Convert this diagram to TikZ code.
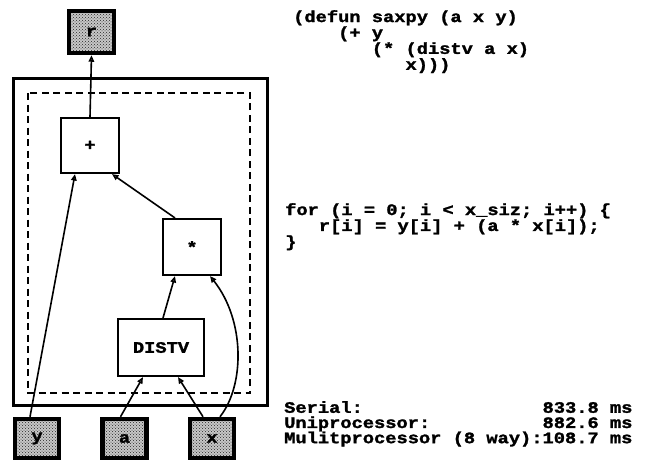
\documentclass[tikz,border=0pt]{standalone}
\usepackage{fontspec}
\usepackage{tikz}
\usetikzlibrary{arrows.meta, patterns}
\newfontfamily\codefont[FakeStretch=1.17, FakeBold=1.6]{Liberation Mono}
\newcommand\codesize{\fontsize{16}{12.5}\selectfont}
\tikzset{
  %% operator boxes
  opbox/.style={rectangle, draw, line width=1.6pt, fill=white,
                font=\codefont\bfseries\codesize, inner sep=0pt},
  %% input / output boxes
  iobox/.style={rectangle, draw, line width=4.5pt, minimum width=44pt,
                minimum height=39pt, font=\codefont\bfseries\codesize,
                inner sep=0pt, preaction={fill=black!22},
                pattern=crosshatch dots, pattern color=black!85},
  %% arrows
  dataflow/.style={-{Triangle[open, length=6.5pt, width=5.5pt]}, line width=1.6pt},
  %% code listings
  codetext/.style={font=\codefont\bfseries\codesize, align=left,
                   inner sep=0pt, anchor=north west},
}

\begin{document}
\begin{tikzpicture}[x=1pt, y=-1pt]
\useasboundingbox (0,0) rectangle (647,472);

%% ============================================================
%%  FRAMES
%% ============================================================
\draw[line width=3pt] (13,78) rectangle (267,405);
\draw[line width=2.6pt, dash pattern=on 7pt off 4.5pt] (28,93) rectangle (250,393);

%% ============================================================
%%  NODES
%% ============================================================
\def\ybot{438.5}
\node[iobox, minimum width=45pt, minimum height=42pt] (r) at (91.5,32) {r};
\node[opbox, minimum width=58.5pt, minimum height=55.5pt] (plus)  at (90,145.5) {+};
\node[opbox, minimum width=58.5pt, minimum height=56.5pt] (times) at (192,247) {*};
\node[opbox, minimum width=86.5pt, minimum height=57.5pt] (distv) at (161,347.5) {DISTV};
\node[iobox] (y) at (37,\ybot)    {y};
\node[iobox] (a) at (124.5,\ybot) {a};
\node[iobox] (x) at (212,\ybot)   {x};

%% ============================================================
%%  DATA FLOW
%% ============================================================
\draw[dataflow] (plus.north) -- (r.south);
\draw[dataflow] ([xshift=-7pt]y.north) -- ([xshift=-15pt]plus.south);
\draw[dataflow] ([xshift=-17pt]times.north) -- ([xshift=22pt]plus.south);
\draw[dataflow] ([xshift=2pt]distv.north) -- ([xshift=-17pt]times.south);
\draw[dataflow] ([xshift=8pt]x.north) .. controls (245,385) and (245,320) .. ([xshift=18pt]times.south);
\draw[dataflow] ([xshift=-4pt]a.north) -- ([xshift=-18pt]distv.south);
\draw[dataflow] ([xshift=-9pt]x.north) -- ([xshift=17pt]distv.south);

%% ============================================================
%%  CODE
%% ============================================================
\node[codetext] (lisp) at (293,10)
  {(defun saxpy (a x y)\\~~~~(+ y\\~~~~~~~(* (distv a x)\\~~~~~~~~~~x)))};
\node[codetext] (cloop) at (285,203)
  {for (i = 0; i < x\_siz; i++) \{\\~~~r[i] = y[i] + (a * x[i]);\\\}};

%% ============================================================
%%  TIMINGS
%% ============================================================
\node[codetext] (timing) at (284,401)
  {\fontsize{16}{12}\selectfont
   \begin{tabular}{@{}l@{}r@{}}
   Serial: & 833.8 ms\\
   Uniprocessor: & 882.6 ms\\
   Mulitprocessor (8 way): & 108.7 ms
   \end{tabular}};

\end{tikzpicture}
\end{document}
